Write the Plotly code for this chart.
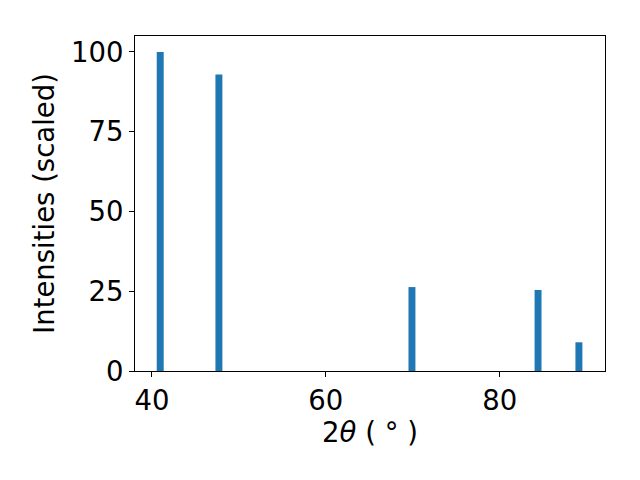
import plotly.graph_objects as go

two_theta = [40.95, 47.7, 69.9, 84.4, 89.1]
intensities = [100.0, 92.9, 26.3, 25.4, 9.0]
x_ticks = [40, 60, 80]
y_ticks = [0, 25, 50, 75, 100]

fig = go.Figure(go.Bar(x=two_theta, y=intensities, width=0.8,
                       marker=dict(color="#1f77b4", line=dict(width=0))))

font = dict(family="DejaVu Sans", size=27.5, color="black")
axis_common = dict(showline=True, linecolor="black", linewidth=1.1, mirror=True,
                   ticks="outside", ticklen=5, tickwidth=1.1, tickcolor="black",
                   showgrid=False, zeroline=False, tickfont=font, automargin=False)

fig.update_layout(
    width=640, height=480,
    margin=dict(l=135, r=35, t=36, b=109),
    paper_bgcolor="white", plot_bgcolor="white",
    showlegend=False,
    xaxis=dict(range=[38.05, 92.1], tickvals=x_ticks,
               title=dict(text="2<i>θ</i> ( ° )", font=font, standoff=0),
               **axis_common),
    yaxis=dict(range=[0, 105], tickvals=y_ticks,
               title=dict(text="Intensities (scaled)", font=font, standoff=8),
               **axis_common),
)

fig.write_html("out.html", config={"displayModeBar": False},
               post_script="document.body.style.margin='0';")
